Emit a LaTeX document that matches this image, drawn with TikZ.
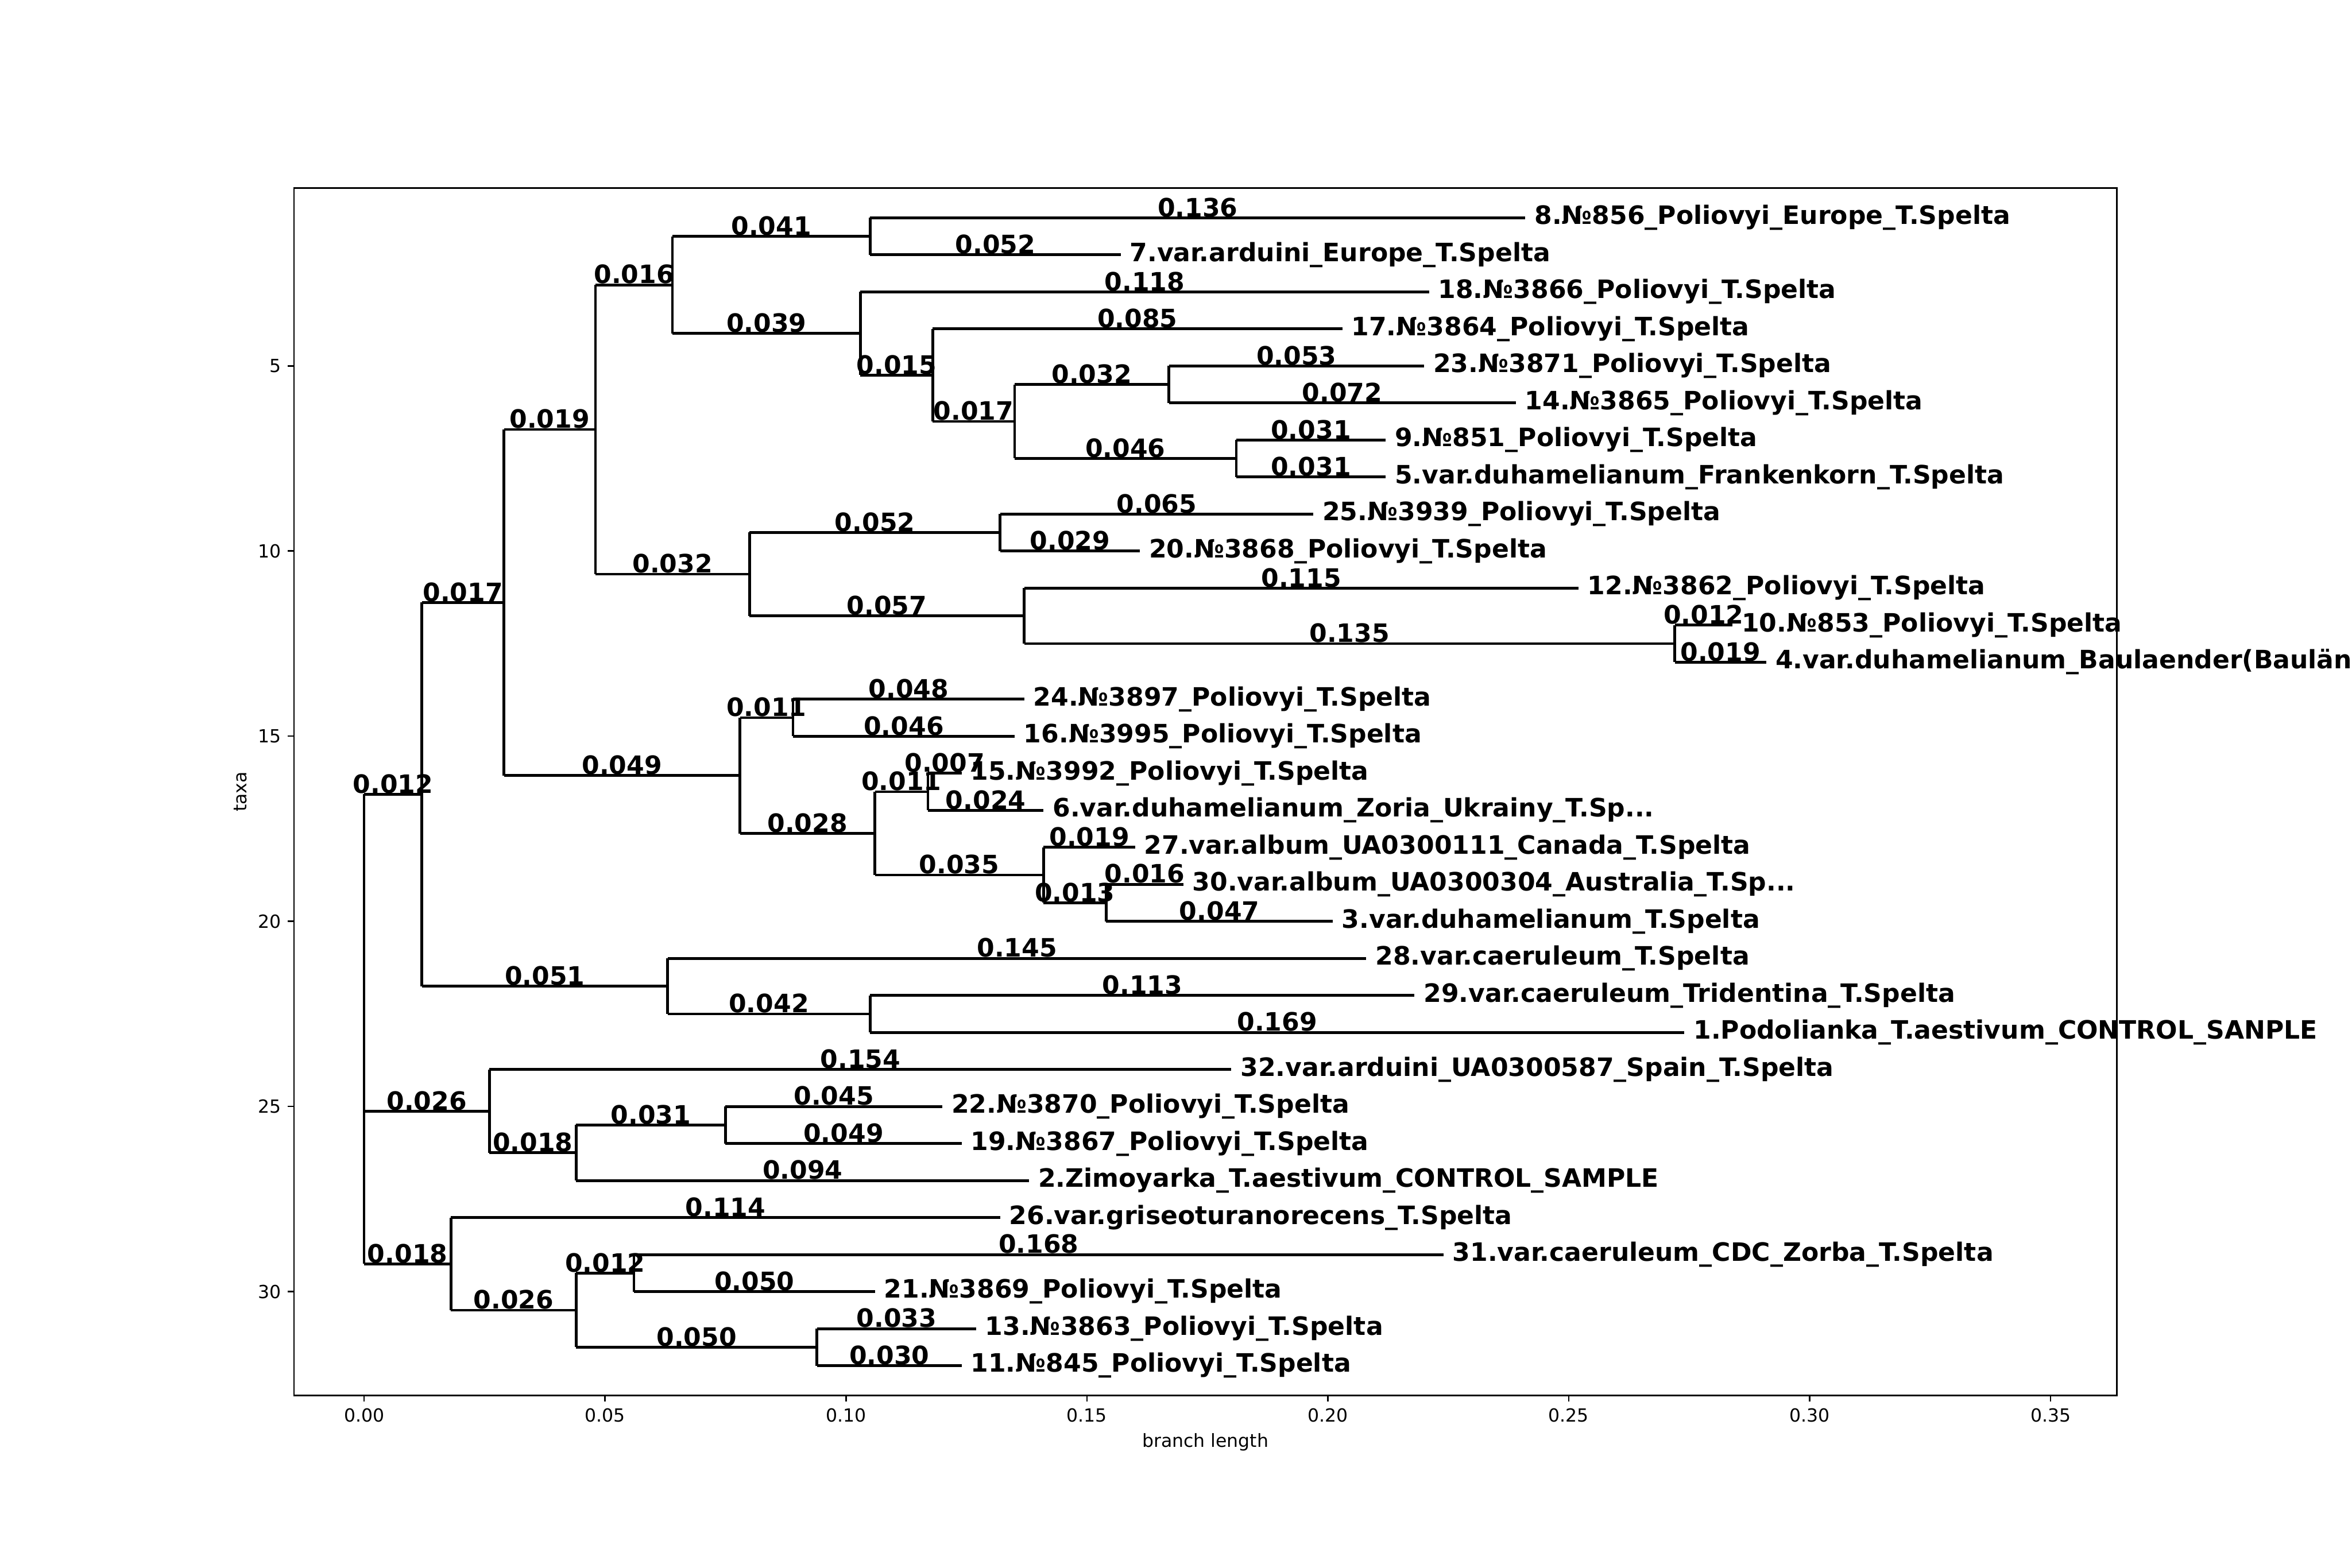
\documentclass[tikz,border=0pt]{standalone}
\usepackage{fontspec}
\setmainfont{DejaVu Sans}

\begin{document}
\begin{tikzpicture}[
    x=93.665cm, y=-0.71993cm,
    branch/.style={line width=1.5pt},
    blabel/.style={anchor=base, inner sep=0pt, yshift=0.7pt, font=\fontsize{14}{16}\selectfont\bfseries},
    tip/.style={anchor=west, inner sep=0pt, xshift=4.9pt, text height=10.6pt, text depth=3.4pt, font=\fontsize{14}{16}\selectfont\bfseries},
    spine/.style={line width=0.8pt},
    tickmark/.style={line width=0.8pt},
    xnum/.style={anchor=north, inner sep=0pt, text height=7.6pt, text depth=2.4pt, font=\fontsize{10}{12}\selectfont},
    ynum/.style={anchor=east, inner sep=0pt, text height=7.3pt, text depth=0pt, font=\fontsize{10}{12}\selectfont}
]
\coordinate (ax0) at (-0.01455,32.8);
\coordinate (ax1) at (0.36375,0.2);
\path[use as bounding box, fill=white] ([shift={(-2.25in,-1.32in)}]ax0) rectangle ([shift={(1.8in,1.44in)}]ax1);
\clip ([shift={(-2.25in,-1.32in)}]ax0) rectangle ([shift={(1.8in,1.44in)}]ax1);

% internal nodes
\coordinate (r) at (0,22.91);
\coordinate (a) at (0.012,16.5703);
\coordinate (a1) at (0.029,11.3906);
\coordinate (a1a) at (0.048,6.71875);
\coordinate (a1a1) at (0.064,2.8125);
\coordinate (x1) at (0.105,1.5);
\coordinate (x2) at (0.103,4.125);
\coordinate (x3) at (0.118,5.25);
\coordinate (x4) at (0.135,6.5);
\coordinate (x5) at (0.167,5.5);
\coordinate (x6) at (0.181,7.5);
\coordinate (a1a2) at (0.080,10.625);
\coordinate (y1) at (0.132,9.5);
\coordinate (y2) at (0.137,11.75);
\coordinate (y3) at (0.272,12.5);
\coordinate (a1b) at (0.078,16.0625);
\coordinate (z1) at (0.089,14.5);
\coordinate (z2) at (0.106,17.625);
\coordinate (z3) at (0.117,16.5);
\coordinate (z4) at (0.141,18.75);
\coordinate (z5) at (0.154,19.5);
\coordinate (a2) at (0.063,21.75);
\coordinate (w1) at (0.105,22.5);
\coordinate (b) at (0.026,25.125);
\coordinate (b1) at (0.044,26.25);
\coordinate (b2) at (0.075,25.5);
\coordinate (c) at (0.018,29.25);
\coordinate (c1) at (0.044,30.5);
\coordinate (c2) at (0.056,29.5);
\coordinate (c3) at (0.094,31.5);

% tips
\coordinate (t1) at (0.241,1);
\coordinate (t2) at (0.157,2);
\coordinate (t3) at (0.221,3);
\coordinate (t4) at (0.203,4);
\coordinate (t5) at (0.220,5);
\coordinate (t6) at (0.239,6);
\coordinate (t7) at (0.212,7);
\coordinate (t8) at (0.212,8);
\coordinate (t9) at (0.197,9);
\coordinate (t10) at (0.161,10);
\coordinate (t11) at (0.252,11);
\coordinate (t12) at (0.284,12);
\coordinate (t13) at (0.291,13);
\coordinate (t14) at (0.137,14);
\coordinate (t15) at (0.135,15);
\coordinate (t16) at (0.124,16);
\coordinate (t17) at (0.141,17);
\coordinate (t18) at (0.160,18);
\coordinate (t19) at (0.170,19);
\coordinate (t20) at (0.201,20);
\coordinate (t21) at (0.208,21);
\coordinate (t22) at (0.218,22);
\coordinate (t23) at (0.274,23);
\coordinate (t24) at (0.180,24);
\coordinate (t25) at (0.120,25);
\coordinate (t26) at (0.124,26);
\coordinate (t27) at (0.138,27);
\coordinate (t28) at (0.132,28);
\coordinate (t29) at (0.224,29);
\coordinate (t30) at (0.106,30);
\coordinate (t31) at (0.127,31);
\coordinate (t32) at (0.124,32);

% vertical lines
\draw[branch] (r |- a) -- (r |- c);
\draw[branch] (a |- a1) -- (a |- a2);
\draw[branch] (a1 |- a1a) -- (a1 |- a1b);
\draw[branch] (a1a |- a1a1) -- (a1a |- a1a2);
\draw[branch] (a1a1 |- x1) -- (a1a1 |- x2);
\draw[branch] (x1 |- t1) -- (x1 |- t2);
\draw[branch] (x2 |- t3) -- (x2 |- x3);
\draw[branch] (x3 |- t4) -- (x3 |- x4);
\draw[branch] (x4 |- x5) -- (x4 |- x6);
\draw[branch] (x5 |- t5) -- (x5 |- t6);
\draw[branch] (x6 |- t7) -- (x6 |- t8);
\draw[branch] (a1a2 |- y1) -- (a1a2 |- y2);
\draw[branch] (y1 |- t9) -- (y1 |- t10);
\draw[branch] (y2 |- t11) -- (y2 |- y3);
\draw[branch] (y3 |- t12) -- (y3 |- t13);
\draw[branch] (a1b |- z1) -- (a1b |- z2);
\draw[branch] (z1 |- t14) -- (z1 |- t15);
\draw[branch] (z2 |- z3) -- (z2 |- z4);
\draw[branch] (z3 |- t16) -- (z3 |- t17);
\draw[branch] (z4 |- t18) -- (z4 |- z5);
\draw[branch] (z5 |- t19) -- (z5 |- t20);
\draw[branch] (a2 |- t21) -- (a2 |- w1);
\draw[branch] (w1 |- t22) -- (w1 |- t23);
\draw[branch] (b |- t24) -- (b |- b1);
\draw[branch] (b1 |- b2) -- (b1 |- t27);
\draw[branch] (b2 |- t25) -- (b2 |- t26);
\draw[branch] (c |- t28) -- (c |- c1);
\draw[branch] (c1 |- c2) -- (c1 |- c3);
\draw[branch] (c2 |- t29) -- (c2 |- t30);
\draw[branch] (c3 |- t31) -- (c3 |- t32);

% horizontal branches
\draw[branch] (r |- a) -- node[blabel] {0.012} (a);
\draw[branch] (a |- a1) -- node[blabel] {0.017} (a1);
\draw[branch] (a1 |- a1a) -- node[blabel] {0.019} (a1a);
\draw[branch] (a1a |- a1a1) -- node[blabel] {0.016} (a1a1);
\draw[branch] (a1a1 |- x1) -- node[blabel] {0.041} (x1);
\draw[branch] (x1 |- t1) -- node[blabel] {0.136} (t1);
\draw[branch] (x1 |- t2) -- node[blabel] {0.052} (t2);
\draw[branch] (a1a1 |- x2) -- node[blabel] {0.039} (x2);
\draw[branch] (x2 |- t3) -- node[blabel] {0.118} (t3);
\draw[branch] (x2 |- x3) -- node[blabel] {0.015} (x3);
\draw[branch] (x3 |- t4) -- node[blabel] {0.085} (t4);
\draw[branch] (x3 |- x4) -- node[blabel] {0.017} (x4);
\draw[branch] (x4 |- x5) -- node[blabel] {0.032} (x5);
\draw[branch] (x5 |- t5) -- node[blabel] {0.053} (t5);
\draw[branch] (x5 |- t6) -- node[blabel] {0.072} (t6);
\draw[branch] (x4 |- x6) -- node[blabel] {0.046} (x6);
\draw[branch] (x6 |- t7) -- node[blabel] {0.031} (t7);
\draw[branch] (x6 |- t8) -- node[blabel] {0.031} (t8);
\draw[branch] (a1a |- a1a2) -- node[blabel] {0.032} (a1a2);
\draw[branch] (a1a2 |- y1) -- node[blabel] {0.052} (y1);
\draw[branch] (y1 |- t9) -- node[blabel] {0.065} (t9);
\draw[branch] (y1 |- t10) -- node[blabel] {0.029} (t10);
\draw[branch] (a1a2 |- y2) -- node[blabel] {0.057} (y2);
\draw[branch] (y2 |- t11) -- node[blabel] {0.115} (t11);
\draw[branch] (y2 |- y3) -- node[blabel] {0.135} (y3);
\draw[branch] (y3 |- t12) -- node[blabel] {0.012} (t12);
\draw[branch] (y3 |- t13) -- node[blabel] {0.019} (t13);
\draw[branch] (a1 |- a1b) -- node[blabel] {0.049} (a1b);
\draw[branch] (a1b |- z1) -- node[blabel] {0.011} (z1);
\draw[branch] (z1 |- t14) -- node[blabel] {0.048} (t14);
\draw[branch] (z1 |- t15) -- node[blabel] {0.046} (t15);
\draw[branch] (a1b |- z2) -- node[blabel] {0.028} (z2);
\draw[branch] (z2 |- z3) -- node[blabel] {0.011} (z3);
\draw[branch] (z3 |- t16) -- node[blabel] {0.007} (t16);
\draw[branch] (z3 |- t17) -- node[blabel] {0.024} (t17);
\draw[branch] (z2 |- z4) -- node[blabel] {0.035} (z4);
\draw[branch] (z4 |- t18) -- node[blabel] {0.019} (t18);
\draw[branch] (z4 |- z5) -- node[blabel] {0.013} (z5);
\draw[branch] (z5 |- t19) -- node[blabel] {0.016} (t19);
\draw[branch] (z5 |- t20) -- node[blabel] {0.047} (t20);
\draw[branch] (a |- a2) -- node[blabel] {0.051} (a2);
\draw[branch] (a2 |- t21) -- node[blabel] {0.145} (t21);
\draw[branch] (a2 |- w1) -- node[blabel] {0.042} (w1);
\draw[branch] (w1 |- t22) -- node[blabel] {0.113} (t22);
\draw[branch] (w1 |- t23) -- node[blabel] {0.169} (t23);
\draw[branch] (r |- b) -- node[blabel] {0.026} (b);
\draw[branch] (b |- t24) -- node[blabel] {0.154} (t24);
\draw[branch] (b |- b1) -- node[blabel] {0.018} (b1);
\draw[branch] (b1 |- b2) -- node[blabel] {0.031} (b2);
\draw[branch] (b2 |- t25) -- node[blabel] {0.045} (t25);
\draw[branch] (b2 |- t26) -- node[blabel] {0.049} (t26);
\draw[branch] (b1 |- t27) -- node[blabel] {0.094} (t27);
\draw[branch] (r |- c) -- node[blabel] {0.018} (c);
\draw[branch] (c |- t28) -- node[blabel] {0.114} (t28);
\draw[branch] (c |- c1) -- node[blabel] {0.026} (c1);
\draw[branch] (c1 |- c2) -- node[blabel] {0.012} (c2);
\draw[branch] (c2 |- t29) -- node[blabel] {0.168} (t29);
\draw[branch] (c2 |- t30) -- node[blabel] {0.050} (t30);
\draw[branch] (c1 |- c3) -- node[blabel] {0.050} (c3);
\draw[branch] (c3 |- t31) -- node[blabel] {0.033} (t31);
\draw[branch] (c3 |- t32) -- node[blabel] {0.030} (t32);

% tip labels
\node[tip] (n1) at (t1) {8.№856\_Poliovyi\_Europe\_T.Spelta};
\node[tip] (n2) at (t2) {7.var.arduini\_Europe\_T.Spelta};
\node[tip] (n3) at (t3) {18.№3866\_Poliovyi\_T.Spelta};
\node[tip] (n4) at (t4) {17.№3864\_Poliovyi\_T.Spelta};
\node[tip] (n5) at (t5) {23.№3871\_Poliovyi\_T.Spelta};
\node[tip] (n6) at (t6) {14.№3865\_Poliovyi\_T.Spelta};
\node[tip] (n7) at (t7) {9.№851\_Poliovyi\_T.Spelta};
\node[tip] (n8) at (t8) {5.var.duhamelianum\_Frankenkorn\_T.Spelta};
\node[tip] (n9) at (t9) {25.№3939\_Poliovyi\_T.Spelta};
\node[tip] (n10) at (t10) {20.№3868\_Poliovyi\_T.Spelta};
\node[tip] (n11) at (t11) {12.№3862\_Poliovyi\_T.Spelta};
\node[tip] (n12) at (t12) {10.№853\_Poliovyi\_T.Spelta};
\node[tip] (n13) at (t13) {4.var.duhamelianum\_Baulaender(Baulän};
\node[tip] (n14) at (t14) {24.№3897\_Poliovyi\_T.Spelta};
\node[tip] (n15) at (t15) {16.№3995\_Poliovyi\_T.Spelta};
\node[tip] (n16) at (t16) {15.№3992\_Poliovyi\_T.Spelta};
\node[tip] (n17) at (t17) {6.var.duhamelianum\_Zoria\_Ukrainy\_T.Sp...};
\node[tip] (n18) at (t18) {27.var.album\_UA0300111\_Canada\_T.Spelta};
\node[tip] (n19) at (t19) {30.var.album\_UA0300304\_Australia\_T.Sp...};
\node[tip] (n20) at (t20) {3.var.duhamelianum\_T.Spelta};
\node[tip] (n21) at (t21) {28.var.caeruleum\_T.Spelta};
\node[tip] (n22) at (t22) {29.var.caeruleum\_Tridentina\_T.Spelta};
\node[tip] (n23) at (t23) {1.Podolianka\_T.aestivum\_CONTROL\_SANPLE};
\node[tip] (n24) at (t24) {32.var.arduini\_UA0300587\_Spain\_T.Spelta};
\node[tip] (n25) at (t25) {22.№3870\_Poliovyi\_T.Spelta};
\node[tip] (n26) at (t26) {19.№3867\_Poliovyi\_T.Spelta};
\node[tip] (n27) at (t27) {2.Zimoyarka\_T.aestivum\_CONTROL\_SAMPLE};
\node[tip] (n28) at (t28) {26.var.griseoturanorecens\_T.Spelta};
\node[tip] (n29) at (t29) {31.var.caeruleum\_CDC\_Zorba\_T.Spelta};
\node[tip] (n30) at (t30) {21.№3869\_Poliovyi\_T.Spelta};
\node[tip] (n31) at (t31) {13.№3863\_Poliovyi\_T.Spelta};
\node[tip] (n32) at (t32) {11.№845\_Poliovyi\_T.Spelta};

% axes
\draw[spine] (ax0) rectangle (ax1);
\foreach \v/\t [count=\i] in {0/0.00, 0.05/0.05, 0.1/0.10, 0.15/0.15, 0.2/0.20, 0.25/0.25, 0.3/0.30, 0.35/0.35} {
  \draw[tickmark] (\v,32.8) -- ++(0pt,-3.5pt);
  \node[xnum] (xt\i) at ([yshift=-7pt]\v,32.8) {\t};
}
\foreach \v in {5,10,15,20,25,30} {
  \draw[tickmark] (-0.01455,\v) -- ++(-3.5pt,0pt);
  \node[ynum] (yt\v) at ([xshift=-7pt]-0.01455,\v) {\v};
}
\node[xnum] (xlab) at ([yshift=-21pt]0.1746,32.8) {branch length};
\node[rotate=90, anchor=south, inner sep=0pt, text height=7.6pt, text depth=2.4pt, font=\fontsize{10}{12}\selectfont] (ylab) at ([xshift=-23.7pt]-0.01455,16.5) {taxa};
\end{tikzpicture}
\end{document}
